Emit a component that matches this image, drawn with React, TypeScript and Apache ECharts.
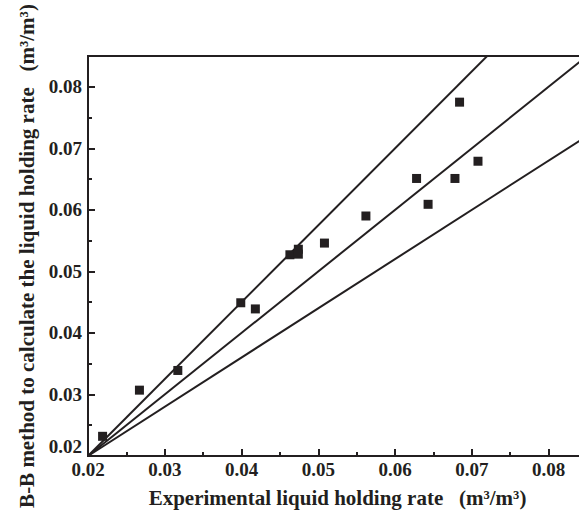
import React, { useEffect, useRef } from "react";
import * as echarts from "echarts";

const expX = [0.0219, 0.0267, 0.0317, 0.0399, 0.0418, 0.0463, 0.0474, 0.0474, 0.0508, 0.0562, 0.0628, 0.0643, 0.0678, 0.0684, 0.0708];
const calcY = [0.0232, 0.0307, 0.0339, 0.0449, 0.0439, 0.0527, 0.0536, 0.0528, 0.0546, 0.0590, 0.0651, 0.0609, 0.0651, 0.0775, 0.0679];
const slopes = [1.25, 1.0, 0.8];
const majorTicks = [0.02, 0.03, 0.04, 0.05, 0.06, 0.07, 0.08];
const minorTicks = [0.025, 0.035, 0.045, 0.055, 0.065, 0.075];
const axisMin = 0.02;
const axisMax = 0.085;
const xTitle = "Experimental liquid holding rate   (m³/m³)";
const yTitle = "B-B method to calculate the liquid holding rate   (m³/m³)";

const INK = "#231f20";
const FONT = "'Liberation Serif', 'Times New Roman', serif";

export default function App() {
  const ref = useRef<HTMLDivElement>(null);
  useEffect(() => {
    if (!ref.current) return;
    const chart = echarts.init(ref.current, undefined, { renderer: "svg" });
    const points = expX.map((x, i) => [x, calcY[i]]);
    const lineSeries = slopes.map((k) => ({
      type: "line",
      data: [
        [axisMin, axisMin],
        [axisMax, axisMin + k * (axisMax - axisMin)],
      ],
      showSymbol: false,
      symbol: "none",
      clip: true,
      lineStyle: { color: INK, width: 2 },
      silent: true,
      z: 2,
    }));
    const fmt = (v: number) => v.toFixed(2);
    const baseAxis = (name: string, isY: boolean) => ({
      type: "value",
      min: axisMin,
      max: axisMax,
      interval: 0.01,
      name,
      nameLocation: "middle",
      nameGap: isY ? 44 : 31,
      nameTextStyle: { fontFamily: FONT, fontWeight: "bold", fontSize: 21, color: INK },
      axisLine: { show: true, lineStyle: { color: INK, width: 2 } },
      axisTick: { show: true, inside: true, length: 7, customValues: majorTicks, lineStyle: { color: INK, width: 2 } },
      axisLabel: {
        show: true,
        customValues: majorTicks,
        formatter: fmt,
        fontFamily: FONT,
        fontWeight: "bold",
        fontSize: 19,
        color: INK,
        margin: isY ? 6 : 4,
        ...(isY ? { verticalAlignMinLabel: "bottom" } : {}),
      },
      splitLine: { show: false },
    });
    const minorAxis = () => ({
      type: "value",
      min: axisMin,
      max: axisMax,
      interval: 0.01,
      axisLine: { show: false },
      axisTick: { show: true, inside: true, length: 4, customValues: minorTicks, lineStyle: { color: INK, width: 2 } },
      axisLabel: { show: false },
      splitLine: { show: false },
    });
    chart.setOption({
      animation: false,
      grid: {
        left: 88,
        top: 56,
        bottom: 57,
        right: 0,
        show: true,
        borderColor: INK,
        borderWidth: 2,
        backgroundColor: "transparent",
        containLabel: false,
      },
      xAxis: [
        { ...baseAxis(xTitle, false), position: "bottom" },
        { ...minorAxis(), position: "bottom" },
      ],
      yAxis: [
        { ...baseAxis(yTitle, true), position: "left" },
        { ...minorAxis(), position: "left" },
      ],
      series: [
        ...lineSeries,
        {
          type: "scatter",
          data: points,
          symbol: "rect",
          symbolSize: 9,
          itemStyle: { color: INK, opacity: 1 },
          z: 3,
        },
      ],
    });
    return () => chart.dispose();
  }, []);
  return (
    <div
      ref={ref}
      style={{ position: "fixed", left: 0, top: 0, width: 587, height: 513, background: "#fff" }}
    />
  );
}
